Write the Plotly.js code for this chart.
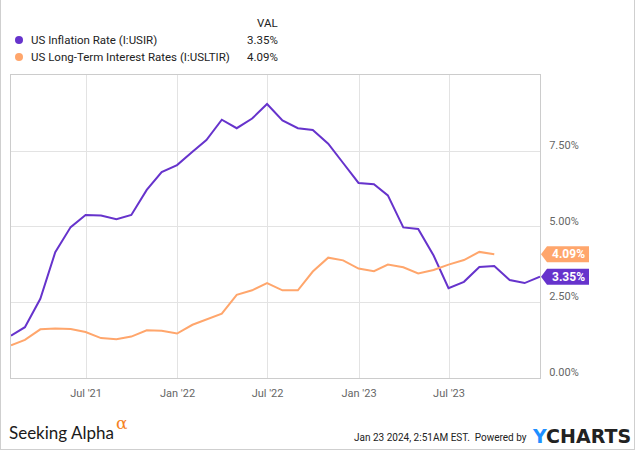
<!DOCTYPE html>
<html>
<head>
<meta charset="utf-8">
<script src="https://cdn.plot.ly/plotly-3.0.1.min.js"></script>
<style>
html,body{margin:0;padding:0;background:#fff;}
#wrap{position:relative;width:635px;height:450px;}
#chart{width:635px;height:450px;}
#frame{position:absolute;left:0;top:0;width:635px;height:450px;box-sizing:border-box;border-left:1px solid #cfcfcf;border-right:1px solid #cfcfcf;border-bottom:1px solid #cfcfcf;pointer-events:none;}
</style>
</head>
<body>
<div id="wrap"><div id="chart"></div><div id="frame"></div></div>
<script>
// ---- data ----
const months = ["2021-01-31","2021-02-28","2021-03-31","2021-04-30","2021-05-31","2021-06-30","2021-07-31","2021-08-31","2021-09-30","2021-10-31","2021-11-30","2021-12-31","2022-01-31","2022-02-28","2022-03-31","2022-04-30","2022-05-31","2022-06-30","2022-07-31","2022-08-31","2022-09-30","2022-10-31","2022-11-30","2022-12-31","2023-01-31","2023-02-28","2023-03-31","2023-04-30","2023-05-31","2023-06-30","2023-07-31","2023-08-31","2023-09-30","2023-10-31","2023-11-30","2023-12-31"];
const inflation = [1.40,1.68,2.62,4.16,4.99,5.39,5.37,5.25,5.39,6.22,6.81,7.04,7.48,7.87,8.54,8.26,8.58,9.06,8.52,8.26,8.20,7.75,7.11,6.45,6.41,6.04,4.98,4.93,4.05,2.97,3.18,3.67,3.70,3.24,3.14,3.35];
const rateMonths = months.slice(0, 33);
const rates = [1.08,1.26,1.61,1.64,1.62,1.52,1.32,1.28,1.37,1.58,1.56,1.47,1.76,1.93,2.13,2.75,2.90,3.14,2.90,2.90,3.52,3.98,3.89,3.62,3.53,3.75,3.66,3.46,3.57,3.75,3.90,4.17,4.09];
const seriesNames = ["US Inflation Rate (I:USIR)", "US Long-Term Interest Rates (I:USLTIR)"];
const lastLabels = ["3.35%", "4.09%"];
const xTickVals = ["2021-07-01","2022-01-01","2022-07-01","2023-01-01","2023-07-01"];
const xTickText = ["Jul '21","Jan '22","Jul '22","Jan '23","Jul '23"];
const yTickVals = [0, 2.5, 5, 7.5];
const yTickText = ["0.00%","2.50%","5.00%","7.50%"];

// ---- style ----
const PURPLE = "#6633cc";
const ORANGE = "#ffa66c";
const FONT = "Roboto, 'Open Sans', sans-serif";
const W = 635, H = 450;
const M = {l: 11, r: 95, t: 75, b: 72};
const PW = W - M.l - M.r, PH = H - M.t - M.b;
const px = x => (x - M.l) / PW;       // pixel -> paper x
const py = y => (H - M.b - y) / PH;   // pixel -> paper y

const traces = [
  {x: months, y: inflation, type: "scatter", mode: "lines", name: seriesNames[0],
   line: {color: PURPLE, width: 2}, hoverinfo: "skip"},
  {x: rateMonths, y: rates, type: "scatter", mode: "lines", name: seriesNames[1],
   line: {color: ORANGE, width: 2}, hoverinfo: "skip"}
];

const lastInfl = inflation[inflation.length - 1];
const lastRate = rates[rates.length - 1];

function tag(yval, color) {
  return {type: "path", xref: "paper", yref: "y", xsizemode: "pixel", ysizemode: "pixel",
    xanchor: 1, yanchor: yval,
    path: "M1,0 L7,8 L49,8 L49,-8 L7,-8 Z",
    fillcolor: color, line: {width: 0}, layer: "above"};
}
function tagText(yval, txt) {
  return {xref: "paper", yref: "y", x: 1, y: yval, xanchor: "center", xshift: 28,
    text: "<b>" + txt + "</b>", showarrow: false,
    font: {family: FONT, size: 12, color: "#ffffff"}};
}
function dot(xp, yp, color) {
  return {type: "circle", xref: "paper", yref: "paper", xsizemode: "pixel", ysizemode: "pixel",
    xanchor: px(xp), yanchor: py(yp), x0: -4, x1: 4, y0: -4, y1: 4,
    fillcolor: color, line: {width: 0}};
}

const layout = {
  width: W, height: H,
  margin: M,
  paper_bgcolor: "#ffffff", plot_bgcolor: "#ffffff",
  showlegend: false,
  font: {family: FONT, color: "#333"},
  xaxis: {
    type: "date", range: ["2021-01-31", "2023-12-31"],
    tickvals: xTickVals, ticktext: xTickText,
    showgrid: true, gridcolor: "#e3e3e3", gridwidth: 1,
    showline: true, mirror: true, linecolor: "#cccccc", linewidth: 1,
    zeroline: false, ticks: "", ticklabelstandoff: 5,
    tickfont: {family: FONT, size: 11, color: "#666"}
  },
  yaxis: {
    side: "right", range: [0, 10.02],
    tickvals: yTickVals, ticktext: yTickText,
    showgrid: true, gridcolor: "#e3e3e3", gridwidth: 1,
    showline: true, mirror: true, linecolor: "#cccccc", linewidth: 1,
    zeroline: false, ticks: "", ticklabelstandoff: 6, ticklabelshift: -6,
    tickfont: {family: FONT, size: 11, color: "#666"}
  },
  shapes: [
    tag(lastRate, ORANGE),
    tag(lastInfl, PURPLE),
    dot(19, 40, PURPLE),
    dot(19, 57, ORANGE)
  ],
  annotations: [
    tagText(lastRate, lastLabels[1]),
    tagText(lastInfl, lastLabels[0]),
    {xref: "paper", yref: "paper", x: px(280), y: py(23), xanchor: "right", yanchor: "middle",
     text: "VAL", showarrow: false, font: {family: FONT, size: 11.5, color: "#222"}},
    {xref: "paper", yref: "paper", x: px(29), y: py(40), xanchor: "left", yanchor: "middle",
     text: seriesNames[0], showarrow: false, font: {family: FONT, size: 11.5, color: "#222"}},
    {xref: "paper", yref: "paper", x: px(29), y: py(57), xanchor: "left", yanchor: "middle",
     text: seriesNames[1], showarrow: false, font: {family: FONT, size: 11.5, color: "#222"}},
    {xref: "paper", yref: "paper", x: px(280), y: py(40), xanchor: "right", yanchor: "middle",
     text: lastLabels[0], showarrow: false, font: {family: FONT, size: 11.5, color: "#222"}},
    {xref: "paper", yref: "paper", x: px(280), y: py(57), xanchor: "right", yanchor: "middle",
     text: lastLabels[1], showarrow: false, font: {family: FONT, size: 11.5, color: "#222"}},
    {xref: "paper", yref: "paper", x: px(7), y: py(432), xanchor: "left", yanchor: "middle",
     text: "Seeking Alpha", showarrow: false, font: {family: "Lato, sans-serif", size: 17, color: "#1a1a1a"}},
    {xref: "paper", yref: "paper", x: px(114), y: py(423), xanchor: "left", yanchor: "middle",
     text: "α", showarrow: false, font: {family: "'DejaVu Serif', serif", size: 17, color: "#f5821f"}},
    {xref: "paper", yref: "paper", x: px(529), y: py(437), xanchor: "right", yanchor: "middle",
     text: "Jan 23 2024, 2:51AM EST.&nbsp;&nbsp;Powered by", showarrow: false,
     font: {family: FONT, size: 10, color: "#222"}},
    {xref: "paper", yref: "paper", x: px(530), y: py(436), xanchor: "left", yanchor: "middle",
     text: "<b><span style='color:#1e90ff'>Y</span>CHARTS</b>", showarrow: false,
     font: {family: "'DejaVu Sans', sans-serif", size: 19, color: "#222"}}
  ]
};

Plotly.newPlot("chart", traces, layout, {displayModeBar: false, staticPlot: true});
</script>
</body>
</html>
